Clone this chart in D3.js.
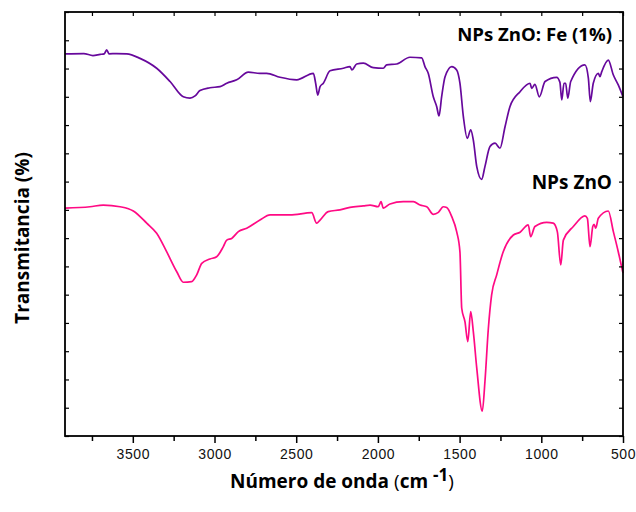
<!DOCTYPE html>
<html>
<head>
<meta charset="utf-8">
<script src="https://cdn.jsdelivr.net/npm/d3@7"></script>
<style>
	body { margin: 0; background: #fff; }
	.tick text { font-family: "Liberation Sans", Arial, sans-serif; }
</style>
</head>
<body>
<div id="chart"></div>
<script>
// FTIR spectra of ZnO nanoparticles, pure and Fe doped (1%).
// Transmittance is in arbitrary units (the original has no y labels).

// NPs ZnO: Fe (1%) - wavenumber (cm-1) and transmittance
var feWave = [3915, 3800, 3744, 3700, 3675, 3660, 3645, 3600, 3537, 3456, 3354, 3272, 3191, 3150, 3119, 3089, 3028, 2966, 2925,
	2864, 2793, 2722, 2681, 2599, 2497, 2395, 2381, 2368, 2354, 2334, 2293, 2212, 2171, 2159, 2130,
	2089, 2028, 1967, 1946, 1885, 1804, 1732, 1712, 1692, 1661, 1640, 1626, 1610, 1589, 1548, 1518,
	1498, 1477, 1453, 1432, 1416, 1395, 1365, 1345, 1314, 1283, 1253, 1222, 1192, 1130, 1069, 1059,
	1039, 1012, 977, 906, 886, 875, 861, 851, 838, 820, 733, 712, 700, 682, 651, 641, 630, 590,
	559, 529, 500];
var feValues = [135.2, 135.3, 134.6, 135.0, 135.2, 136.6, 135.2, 135.3, 135.2, 133.6, 130.1, 125.4, 120.0, 119.5, 120.3, 122.2, 123.2,
	123.6, 124.8, 126.0, 128.7, 128.3, 128.3, 126.9, 126.0, 128.3, 124.8, 120.6, 123.6, 124.8, 129.2,
	130.1, 130.7, 129.5, 131.6, 131.9, 130.3, 130.1, 131.3, 131.6, 134.0, 133.8, 130.7, 128.3, 120.0,
	116.5, 113.2, 120.0, 127.1, 130.7, 129.5, 124.8, 113.0, 105.3, 108.3, 104.7, 95.3, 90.8, 95.3,
	102.4, 103.6, 101.8, 109.4, 116.5, 121.8, 124.8, 123.0, 124.4, 120.0, 125.4, 126.9, 125.1, 118.9,
	124.8, 124.8, 119.5, 125.4, 131.3, 126.6, 118.3, 124.8, 128.3, 127.1, 128.9, 133.0, 127.7, 124.2,
	120.0];

// NPs ZnO - wavenumber (cm-1) and transmittance
var znoWave = [3915, 3762, 3681, 3578, 3497, 3415, 3354, 3293, 3231, 3191, 3140, 3109, 3078, 3028,
	2987, 2946, 2925, 2895, 2854, 2803, 2722, 2660, 2538, 2405, 2375, 2354, 2304, 2232, 2171, 2089,
	2048, 1998, 1981, 1967, 1926, 1845, 1783, 1742, 1701, 1661, 1630, 1600, 1579, 1548, 1518, 1498,
	1487, 1467, 1450, 1432, 1416, 1395, 1361, 1345, 1324, 1304, 1273, 1233, 1171, 1130, 1080, 1065,
	1039, 967, 927, 902, 881, 865, 804, 733, 718, 702, 685, 677, 667, 651, 590, 559, 529, 500];
var znoValues = [80.6, 81.1, 81.7, 81.1, 79.6, 75.3, 71.7, 65.2, 58.1, 54.4, 54.6, 57.0, 61.1, 62.6,
	63.4, 67.0, 69.3, 69.9, 72.3, 73.5, 76.4, 78.2, 78.2, 79.0, 75.3, 76.4, 79.4, 80.0, 80.9, 81.4,
	81.7, 81.1, 82.9, 80.6, 82.1, 82.9, 82.9, 81.7, 81.1, 78.4, 79.1, 81.1, 80.8, 77.6, 72.3, 65.2,
	45.2, 40.4, 33.4, 44.0, 36.9, 24.0, 8.8, 19.2, 38.1, 49.9, 57.0, 65.2, 71.1, 72.1, 74.7, 70.5,
	74.1, 75.6, 75.3, 72.3, 60.5, 69.3, 74.1, 77.9, 77.0, 67.0, 74.1, 74.9, 73.5, 77.0, 79.6, 72.3,
	65.2, 57.6];

// Axis ticks
var xTickLabels = [3500, 3000, 2500, 2000, 1500, 1000, 500];
var xMinorTicks = [3750, 3250, 2750, 2250, 1750, 1250, 750];
var yTicks = d3.range(0, 151, 10);

// Drawing area
var width = 636,
	height = 512;
var margin = { top: 12, right: 13, bottom: 76, left: 65 };
var plotW = width - margin.left - margin.right,
	plotH = height - margin.top - margin.bottom;

var xScale = d3.scaleLinear().domain([3915, 500]).range([0, plotW]);
var yScale = d3.scaleLinear().domain([0, 150]).range([plotH, 0]);

var svg = d3.select("#chart").append("svg")
	.attr("width", width)
	.attr("height", height);

var g = svg.append("g")
	.attr("transform", "translate(" + margin.left + "," + margin.top + ")");

// Spectra
function drawSpectrum(waves, values, color) {
	var pts = waves.map(function(w, i) { return [w, values[i]]; });
	var line = d3.line()
		.x(function(d) { return xScale(d[0]); })
		.y(function(d) { return yScale(d[1]); })
		.curve(d3.curveMonotoneX);
	g.append("path")
		.datum(pts)
		.attr("d", line)
		.style("fill", "none")
		.style("stroke", color)
		.style("stroke-width", "1.7px")
		.style("stroke-linejoin", "round");
} // drawSpectrum()

drawSpectrum(feWave, feValues, "#67089c");
drawSpectrum(znoWave, znoValues, "#ff0a84");

// Bottom axis: labelled major ticks plus short minor ticks, all outward
var xAxis = d3.axisBottom(xScale)
	.tickValues(xTickLabels)
	.tickSize(7)
	.tickPadding(6)
	.tickFormat(d3.format("d"));
var gx = g.append("g")
	.attr("transform", "translate(0," + plotH + ")")
	.call(xAxis);
gx.select(".domain").remove();
gx.selectAll(".tick line").style("stroke-width", "1.5px");
gx.selectAll(".tick text")
	.style("font-size", "14px")
	.style("letter-spacing", "0.6px")
	.style("fill", "#111");

g.append("g")
	.attr("transform", "translate(0," + plotH + ")")
	.call(d3.axisBottom(xScale).tickValues(xMinorTicks).tickSize(5).tickFormat(""))
	.call(function(s) { s.select(".domain").remove(); })
	.selectAll(".tick line").style("stroke-width", "1.5px");

// Top axis: inward ticks only
g.append("g")
	.call(d3.axisBottom(xScale).tickValues(xTickLabels.concat(xMinorTicks)).tickSize(4).tickFormat(""))
	.call(function(s) { s.select(".domain").remove(); })
	.selectAll(".tick line").style("stroke-width", "1.2px");

// Left and right axes: inward ticks, no labels
g.append("g")
	.call(d3.axisRight(yScale).tickValues(yTicks).tickSize(4).tickFormat(""))
	.call(function(s) { s.select(".domain").remove(); })
	.selectAll(".tick line").style("stroke-width", "1.2px");
g.append("g")
	.attr("transform", "translate(" + plotW + ",0)")
	.call(d3.axisLeft(yScale).tickValues(yTicks).tickSize(4).tickFormat(""))
	.call(function(s) { s.select(".domain").remove(); })
	.selectAll(".tick line").style("stroke-width", "1.2px");

// Frame
g.append("rect")
	.attr("width", plotW)
	.attr("height", plotH)
	.style("fill", "none")
	.style("stroke", "#000")
	.style("stroke-width", "1.8px");

// Series labels
var labelFont = "'Open Sans', 'DejaVu Sans', sans-serif";
g.append("text")
	.attr("x", plotW - 11)
	.attr("y", 29)
	.attr("text-anchor", "end")
	.style("font-family", labelFont)
	.style("font-weight", "bold")
	.style("font-size", "18.6px")
	.text("NPs ZnO: Fe (1%)");
g.append("text")
	.attr("x", plotW - 11)
	.attr("y", 177)
	.attr("text-anchor", "end")
	.style("font-family", labelFont)
	.style("font-weight", "bold")
	.style("font-size", "19px")
	.text("NPs ZnO");

// Axis titles
svg.append("text")
	.attr("transform", "translate(29,238) rotate(-90)")
	.attr("text-anchor", "middle")
	.style("font-family", labelFont)
	.style("font-weight", "bold")
	.style("font-size", "19px")
	.text("Transmitancia (%)");

var xTitle = svg.append("text")
	.attr("x", 230)
	.attr("y", 488)
	.style("font-family", labelFont)
	.style("font-size", "19px");
xTitle.append("tspan").style("font-weight", "bold").text("Número de onda ");
xTitle.append("tspan").text("(");
xTitle.append("tspan").style("font-weight", "bold").text("cm ");
xTitle.append("tspan").attr("dy", -7).style("font-weight", "bold").style("font-size", "17px").text("-1");
xTitle.append("tspan").attr("dy", 7).text(")");
</script>
</body>
</html>
